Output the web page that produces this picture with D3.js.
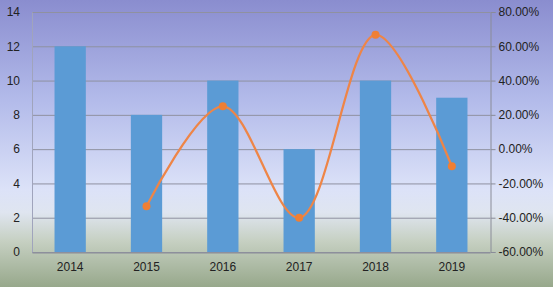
<!DOCTYPE html>
<html>
<head>
<meta charset="utf-8">
<script src="https://cdn.jsdelivr.net/npm/d3@7"></script>
<style>
  body { margin: 0; background: #fff; }
  svg { display: block; font-family: "Liberation Sans", Arial, sans-serif; }
</style>
</head>
<body>
<svg id="chart" width="553" height="287"></svg>
<script>
(function() {

	var years = ['2014', '2015', '2016', '2017', '2018', '2019'],
		counts = [12, 8, 10, 6, 10, 9],
		growth = [null, -0.3333, 0.25, -0.40, 0.6667, -0.10],
		leftTicks = [0, 2, 4, 6, 8, 10, 12, 14],
		rightTicks = [-0.6, -0.4, -0.2, 0, 0.2, 0.4, 0.6, 0.8];

	var width = 553,
		height = 287,
		left = 32,
		right = 490,
		top = 12,
		bottom = 252;

	var svg = d3.select('#chart');

	// achtergrond-verloop, paars boven naar groenig onder
	var grad = svg.append('defs').append('linearGradient')
		.attr('id', 'bg')
		.attr('x1', 0).attr('y1', 0).attr('x2', 0).attr('y2', 1);
	[[0, '#8a8dcf'], [0.35, '#b3bbea'], [0.66, '#dce2f8'], [0.74, '#dfe5f0'],
	 [0.84, '#c6d0c2'], [1, '#97a88b']].forEach(function(s) {
		grad.append('stop').attr('offset', s[0]).attr('stop-color', s[1]);
	});

	svg.append('rect')
		.attr('width', width)
		.attr('height', height)
		.attr('fill', 'url(#bg)');

	var x = d3.scaleBand().domain(years).range([left, right]).paddingInner(0.59).paddingOuter(0.295),
		xc = d3.scalePoint().domain(years).range([left, right]).padding(0.5),
		y = d3.scaleLinear().domain([0, 14]).range([bottom, top]),
		y2 = d3.scaleLinear().domain([-0.6, 0.8]).range([bottom, top]);

	// rasterlijnen
	svg.append('g')
		.selectAll('line')
		.data(leftTicks)
		.enter()
		.append('line')
			.attr('x1', left)
			.attr('x2', right)
			.attr('y1', function(d) { return y(d) + 0.5; })
			.attr('y2', function(d) { return y(d) + 0.5; })
			.attr('stroke', '#8f91a0')
			.attr('stroke-width', 1);

	// staven
	svg.append('g')
		.selectAll('rect')
		.data(counts)
		.enter()
		.append('rect')
			.attr('x', function(d, i) { return x(years[i]); })
			.attr('y', function(d) { return y(d); })
			.attr('width', x.bandwidth())
			.attr('height', function(d) { return bottom - y(d); })
			.attr('fill', '#5b9bd5');

	// assen
	var leftAxis = svg.append('g')
		.attr('transform', 'translate(' + left + ',0)')
		.call(d3.axisLeft(y).tickValues(leftTicks).tickSize(0).tickPadding(12));

	var rightAxis = svg.append('g')
		.attr('transform', 'translate(' + (right + 0.5) + ',0)')
		.call(d3.axisRight(y2).tickValues(rightTicks).tickSize(5).tickPadding(3)
			.tickFormat(function(d) { return (d * 100).toFixed(2) + '%'; }));

	var bottomAxis = svg.append('g')
		.attr('transform', 'translate(0,' + (bottom + 0.5) + ')')
		.call(d3.axisBottom(x).tickSize(0).tickPadding(10));

	[leftAxis, rightAxis, bottomAxis].forEach(function(a) {
		a.selectAll('.domain').attr('stroke', '#8a8c98');
		a.selectAll('.tick line').attr('stroke', '#8a8c98');
		a.selectAll('text').attr('fill', '#222').style('font-size', '12px');
	});
	leftAxis.select('.domain').attr('stroke', '#a0a4bc');

	// groeilijn
	var pts = growth.map(function(d, i) { return { year: years[i], v: d }; })
		.filter(function(d) { return d.v !== null; });

	var line = d3.line()
		.x(function(d) { return xc(d.year); })
		.y(function(d) { return y2(d.v); })
		.curve(d3.curveCatmullRom.alpha(0.5));

	svg.append('path')
		.datum(pts)
		.attr('d', line)
		.attr('fill', 'none')
		.attr('stroke', '#ee8547')
		.attr('stroke-width', 2.25);

	svg.append('g')
		.selectAll('circle')
		.data(pts)
		.enter()
		.append('circle')
			.attr('cx', function(d) { return xc(d.year); })
			.attr('cy', function(d) { return y2(d.v); })
			.attr('r', 4)
			.attr('fill', '#ef7f35');

})();
</script>
</body>
</html>
